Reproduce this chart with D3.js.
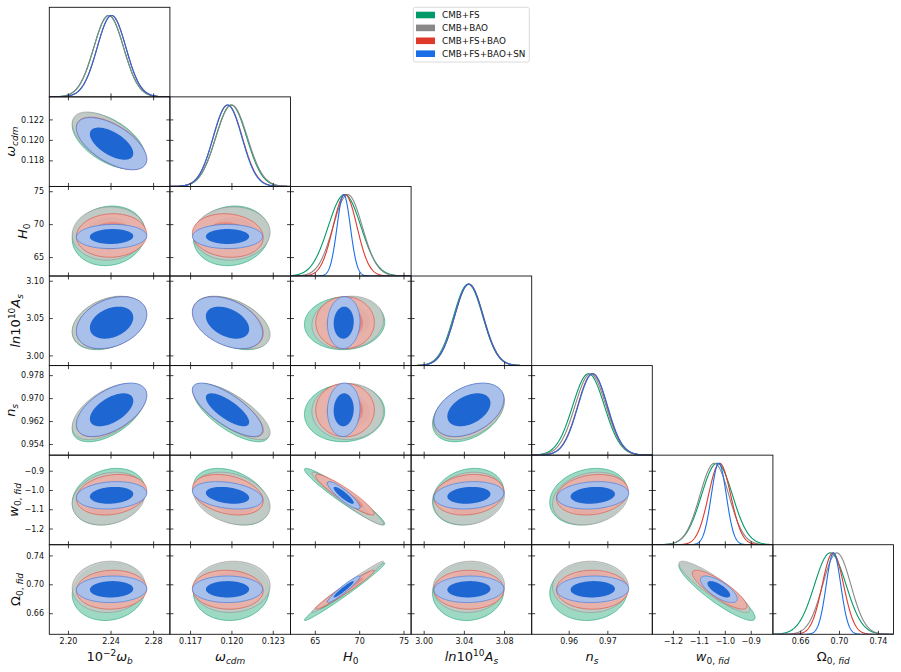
<!DOCTYPE html>
<html><head><meta charset="utf-8">
<script src="https://cdn.jsdelivr.net/npm/d3@7"></script>
<style>body{margin:0;background:#fff}text{font-family:"DejaVu Sans",sans-serif;fill:#111}</style>
</head><body><svg id="c" width="901" height="672"></svg>
<script>
// ---------------- data ----------------
const datasets = ["CMB+FS", "CMB+BAO", "CMB+FS+BAO", "CMB+FS+BAO+SN"];
const paramNames = ["omega_b", "omega_cdm", "H0", "lnAs", "ns", "w0", "Omega0"];
const axisRanges = [[2.182, 2.2953], [0.1155, 0.12425], [62.2, 75.8], [2.987, 3.107], [0.9503, 0.9815], [-1.2815, -0.8165], [0.6315, 0.7555]];
const xTickValues = [[2.20, 2.24, 2.28], [0.117, 0.120, 0.123], [65, 70, 75], [3.00, 3.04, 3.08], [0.96, 0.97], [-1.2, -1.1, -1.0, -0.9], [0.66, 0.70, 0.74]];
const yTickValues = [[], [0.118, 0.120, 0.122], [65, 70, 75], [3.00, 3.05, 3.10], [0.954, 0.962, 0.970, 0.978], [-1.2, -1.1, -1.0, -0.9], [0.66, 0.70, 0.74]];
const xTickFormats = [".2f", ".3f", "d", ".2f", ".2f", ".1f", ".2f"];
const yTickFormats = [".2f", ".3f", "d", ".2f", ".3f", ".1f", ".2f"];

// posterior means per dataset (order of paramNames)
const meanCMBFS       = [2.2378, 0.11995, 68.30, 3.0438, 0.9650, -1.032, 0.6905];
const meanCMBBAO      = [2.2378, 0.11998, 68.65, 3.0445, 0.9655, -1.042, 0.6972];
const meanCMBFSBAO    = [2.2405, 0.11970, 68.35, 3.0445, 0.9660, -1.022, 0.6932];
const meanCMBFSBAOSN  = [2.2405, 0.11968, 68.20, 3.0445, 0.9661, -1.025, 0.6938];
// posterior standard deviations
const sigmaCMBFS      = [0.0140, 0.00112, 1.85, 0.0145, 0.0041, 0.060, 0.0163];
const sigmaCMBBAO     = [0.0140, 0.00114, 1.65, 0.0145, 0.0040, 0.056, 0.0145];
const sigmaCMBFSBAO   = [0.0135, 0.00105, 1.35, 0.0142, 0.0038, 0.043, 0.0110];
const sigmaCMBFSBAOSN = [0.0135, 0.00104, 0.75, 0.0142, 0.0038, 0.029, 0.0075];
// correlations, pairs (1,0),(2,0),(2,1),(3,0),(3,1),(3,2),(4,0),(4,1),(4,2),(4,3),(5,0),(5,1),(5,2),(5,3),(5,4),(6,0),(6,1),(6,2),(6,3),(6,4),(6,5)
const corrCMBFS      = [-0.55, 0.10, 0.10, 0.33, -0.42, 0.05, 0.55, -0.72, 0.05, 0.38, 0.22, -0.35, -0.96, 0.18, 0.20, 0.10, 0.05, 0.985, 0.05, 0.05, -0.90];
const corrCMBBAO     = [-0.60, 0.05, 0.05, 0.33, -0.45, 0.10, 0.55, -0.75, 0.00, 0.38, 0.20, -0.30, -0.96, 0.15, 0.20, 0.05, 0.05, 0.985, 0.05, 0.00, -0.90];
const corrCMBFSBAO   = [-0.60, 0.05, -0.10, 0.32, -0.40, 0.00, 0.55, -0.75, 0.00, 0.40, 0.20, -0.30, -0.93, 0.15, 0.18, 0.05, -0.05, 0.975, 0.00, 0.00, -0.85];
const corrCMBFSBAOSN = [-0.60, 0.05, 0.00, 0.32, -0.40, 0.05, 0.55, -0.75, 0.05, 0.40, 0.15, -0.30, -0.88, 0.15, 0.15, 0.05, 0.00, 0.950, 0.05, 0.05, -0.72];

const means = [meanCMBFS, meanCMBBAO, meanCMBFSBAO, meanCMBFSBAOSN];
const sigmas = [sigmaCMBFS, sigmaCMBBAO, sigmaCMBFSBAO, sigmaCMBFSBAOSN];
const corrs = [corrCMBFS, corrCMBBAO, corrCMBFSBAO, corrCMBFSBAOSN];

// ---------------- style ----------------
const lineColors = ["#009a68", "#888888", "#e0392b", "#1a6ee8"];
const fill2 = ["#8dd3b8", "#c5c8c7", "#efaea5", "#a6c0ec"];
const fill1 = ["#52b891", "#a0a3a3", "#e5857a", "#1e66d1"];
const fillOp2 = [0.85, 0.85, 0.85, 0.97];
const fillOp1 = [0.85, 0.85, 0.85, 1];

const N = paramNames.length;
const L = 49.3, T = 7.3, CW = 120.6, CH = 89.57;
const TICK = 3.5;
const svg = d3.select("#c");

function pairIndex(i, j) { // i>j
  return i * (i - 1) / 2 + j;
}
const xScales = axisRanges.map((d, c) => d3.scaleLinear().domain(d).range([L + c * CW, L + (c + 1) * CW]));
const yScales = axisRanges.map((d, r) => d3.scaleLinear().domain(d).range([T + (r + 1) * CH, T + r * CH]));

const defs = svg.append("defs");
const K1 = Math.sqrt(-2 * Math.log(1 - 0.68)), K2 = Math.sqrt(-2 * Math.log(1 - 0.95));

function ellipsePts(mx, my, sx, sy, rho, k) {
  const s = Math.sqrt(1 - rho * rho);
  return d3.range(0, 181).map(i => {
    const t = i / 180 * 2 * Math.PI;
    return [mx + k * sx * Math.cos(t), my + k * sy * (rho * Math.cos(t) + s * Math.sin(t))];
  });
}

for (let r = 0; r < N; r++) {
  for (let c = 0; c <= r; c++) {
    const x0 = L + c * CW, y0 = T + r * CH;
    const id = "clip" + r + "_" + c;
    defs.append("clipPath").attr("id", id).append("rect").attr("x", x0).attr("y", y0).attr("width", CW).attr("height", CH);
    const g = svg.append("g");
    const pg = g.append("g").attr("clip-path", `url(#${id})`);
    const xs = xScales[c];
    if (r === c) {
      const ys = d3.scaleLinear().domain([0, 1.1]).range([y0 + CH, y0]);
      const xsamp = d3.range(0, 401).map(i => axisRanges[c][0] + (axisRanges[c][1] - axisRanges[c][0]) * i / 400);
      datasets.forEach((ds, k) => {
        const mu = means[k][c], sg = sigmas[k][c];
        const line = d3.line().x(d => xs(d)).y(d => ys(Math.exp(-0.5 * ((d - mu) / sg) ** 2)));
        pg.append("path").attr("d", line(xsamp)).attr("fill", "none")
          .attr("stroke", lineColors[k]).attr("stroke-width", 1.1);
      });
    } else {
      const ys = yScales[r];
      const line = d3.line().x(d => xs(d[0])).y(d => ys(d[1])).curve(d3.curveLinearClosed);
      datasets.forEach((ds, k) => {
        const rho = corrs[k][pairIndex(r, c)];
        const mx = means[k][c], my = means[k][r], sx = sigmas[k][c], sy = sigmas[k][r];
        pg.append("path").attr("d", line(ellipsePts(mx, my, sx, sy, rho, K2)))
          .attr("fill", fill2[k]).attr("fill-opacity", fillOp2[k])
          .attr("stroke", lineColors[k]).attr("stroke-width", 0.7).attr("stroke-opacity", 0.75);
        pg.append("path").attr("d", line(ellipsePts(mx, my, sx, sy, rho, K1)))
          .attr("fill", fill1[k]).attr("fill-opacity", fillOp1[k]);
      });
    }
    // ticks
    const tk = g.append("g").attr("stroke", "#111").attr("stroke-width", 0.8);
    xTickValues[c].forEach(v => {
      const x = xs(v);
      tk.append("line").attr("x1", x).attr("x2", x).attr("y1", y0 + CH).attr("y2", y0 + CH - TICK);
      if (r !== c) tk.append("line").attr("x1", x).attr("x2", x).attr("y1", y0).attr("y2", y0 + TICK);
    });
    yTickValues[r].forEach(v => {
      const y = yScales[r](v);
      tk.append("line").attr("x1", x0).attr("x2", x0 + TICK).attr("y1", y).attr("y2", y);
      if (r !== c) tk.append("line").attr("x1", x0 + CW).attr("x2", x0 + CW - TICK).attr("y1", y).attr("y2", y);
    });
    g.append("rect").attr("x", x0).attr("y", y0).attr("width", CW).attr("height", CH)
      .attr("fill", "none").attr("stroke", "#111").attr("stroke-width", 0.9);
  }
}

// tick labels
const bottom = T + N * CH;
for (let c = 0; c < N; c++) {
  const f = d3.format(xTickFormats[c]);
  xTickValues[c].forEach(v => {
    svg.append("text").attr("x", xScales[c](v)).attr("y", bottom + 9.8)
      .attr("text-anchor", "middle").attr("font-size", 8).text(f(v));
  });
}
const yLabelWidth = [];
for (let r = 1; r < N; r++) {
  const f = d3.format(yTickFormats[r]);
  let mw = 0;
  yTickValues[r].forEach(v => {
    const t = svg.append("text").attr("x", L - 5.3).attr("y", yScales[r](v)).attr("dy", "0.33em")
      .attr("text-anchor", "end").attr("font-size", 8).text(f(v));
    mw = Math.max(mw, t.node().getComputedTextLength());
  });
  yLabelWidth[r] = mw;
}

// math labels
const labelParts = [
  [{t: "10"}, {t: "\u22122", sup: 1}, {t: "\u03c9", i: 1}, {t: "b", i: 1, sub: 1}],
  [{t: "\u03c9", i: 1}, {t: "cdm", i: 1, sub: 1}],
  [{t: "H", i: 1}, {t: "0", sub: 1}],
  [{t: "ln", i: 1}, {t: "10"}, {t: "10", sup: 1}, {t: "A", i: 1}, {t: "s", i: 1, sub: 1}],
  [{t: "n", i: 1}, {t: "s", i: 1, sub: 1}],
  [{t: "w", i: 1}, {t: "0, ", sub: 1}, {t: "fid", i: 1, sub: 1}],
  [{t: "\u03a9"}, {t: "0, ", sub: 1}, {t: "fid", i: 1, sub: 1}]
];
function mathText(sel, parts) {
  let cur = 0;
  parts.forEach(p => {
    const target = p.sub ? 3 : p.sup ? -5 : 0;
    sel.append("tspan").attr("dy", target - cur).attr("font-size", (p.sub || p.sup) ? 9 : 13)
      .attr("font-style", p.i ? "italic" : "normal").text(p.t);
    cur = target;
  });
}
for (let c = 0; c < N; c++) {
  const t = svg.append("text").attr("x", L + (c + 0.5) * CW).attr("y", 660.5).attr("text-anchor", "middle").attr("font-size", 13);
  mathText(t, labelParts[c]);
}
for (let r = 1; r < N; r++) {
  const bx = L - 5.3 - yLabelWidth[r] - 6.5;
  const cy = T + (r + 0.5) * CH;
  const t = svg.append("text").attr("transform", `translate(${bx},${cy}) rotate(-90)`)
    .attr("text-anchor", "middle").attr("font-size", 13);
  mathText(t, labelParts[r]);
}

// legend
const lg = svg.append("g");
lg.append("rect").attr("x", 413.3).attr("y", 7.3).attr("width", 116).attr("height", 54.7).attr("rx", 2)
  .attr("fill", "#fff").attr("fill-opacity", 0.8).attr("stroke", "#d0d0d0").attr("stroke-width", 0.8);
datasets.forEach((ds, k) => {
  const cy = 15 + k * 12.9;
  lg.append("rect").attr("x", 416).attr("y", cy - 3.3).attr("width", 19).attr("height", 6.6).attr("fill", lineColors[k]);
  lg.append("text").attr("x", 442).attr("y", cy + 3.2).attr("font-size", 8.8).text(ds);
});
</script></body></html>
